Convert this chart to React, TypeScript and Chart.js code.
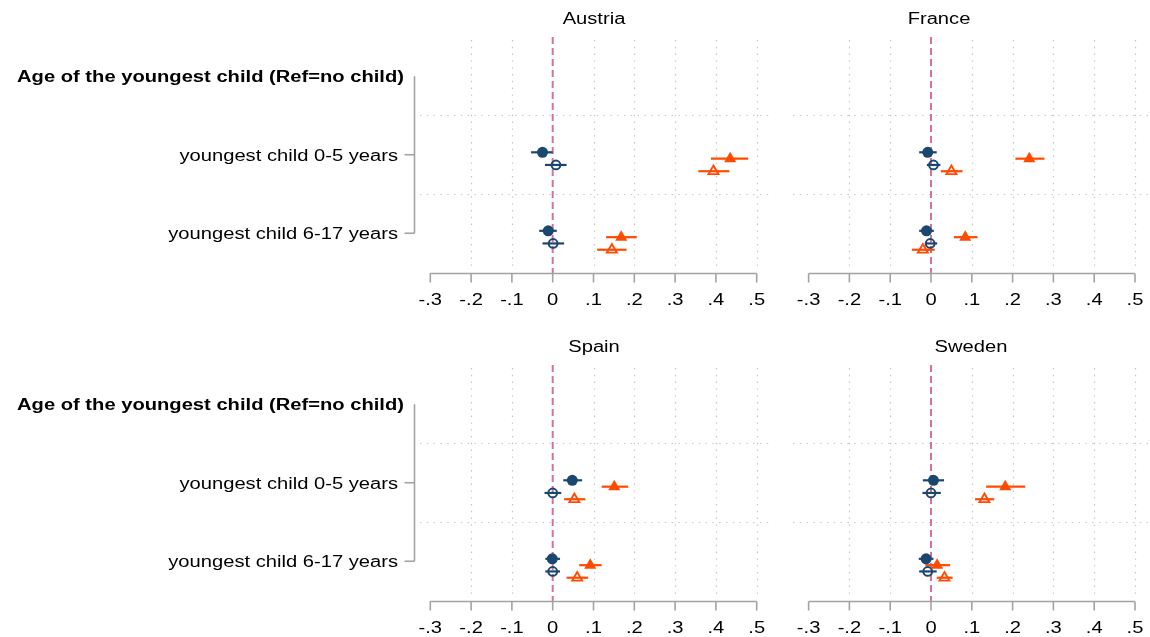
import React, { useEffect, useRef } from 'react';
import { Chart, registerables } from 'chart.js';

Chart.register(...registerables);

// ---------------- data ----------------
const countries = ['Austria', 'France', 'Spain', 'Sweden'];
const headerLabel = 'Age of the youngest child (Ref=no child)';
const categories = ['youngest child 0-5 years', 'youngest child 6-17 years'];
const xTickValues = [-0.3, -0.2, -0.1, 0, 0.1, 0.2, 0.3, 0.4, 0.5];
const xTickLabels = ['-.3', '-.2', '-.1', '0', '.1', '.2', '.3', '.4', '.5'];
const xGridValues = [-0.2, -0.1, 0.1, 0.2, 0.3, 0.4, 0.5];

// rows: Austria, France, Spain, Sweden ; columns: 0-5, 6-17
const navyFilledEst = [[-0.025, -0.011], [-0.008, -0.011], [0.048, -0.001], [0.006, -0.012]];
const navyFilledLo = [[-0.053, -0.033], [-0.029, -0.029], [0.026, -0.018], [-0.020, -0.030]];
const navyFilledHi = [[0.000, 0.010], [0.014, 0.007], [0.072, 0.018], [0.032, 0.006]];

const orangeFilledEst = [[0.435, 0.168], [0.241, 0.084], [0.151, 0.092], [0.182, 0.015]];
const orangeFilledLo = [[0.388, 0.131], [0.207, 0.056], [0.120, 0.065], [0.135, -0.014]];
const orangeFilledHi = [[0.479, 0.206], [0.278, 0.114], [0.185, 0.120], [0.231, 0.047]];

const navyHollowEst = [[0.008, 0.001], [0.006, -0.002], [0.000, 0.000], [0.000, -0.008]];
const navyHollowLo = [[-0.019, -0.025], [-0.010, -0.015], [-0.020, -0.018], [-0.021, -0.029]];
const navyHollowHi = [[0.034, 0.028], [0.023, 0.015], [0.021, 0.018], [0.024, 0.014]];

const orangeHollowEst = [[0.394, 0.145], [0.050, -0.020], [0.053, 0.060], [0.131, 0.033]];
const orangeHollowLo = [[0.357, 0.109], [0.024, -0.047], [0.028, 0.034], [0.108, 0.014]];
const orangeHollowHi = [[0.433, 0.181], [0.077, 0.009], [0.080, 0.087], [0.155, 0.053]];

// ---------------- styles / layout ----------------
const NAVY = '#1a476f';
const ORANGE = '#ff4a00';
const PINK = '#d4729f';
const GRID = '#c4c4c4';
const AXIS = '#a3a3a3';
const FONT = '"Liberation Sans", Arial, sans-serif';
const SX = 1.26; // horizontal text stretch

const series = [
  { est: navyFilledEst, lo: navyFilledLo, hi: navyFilledHi, offset: -0.031, color: NAVY, style: 'circle', filled: true, r: 5.5, bw: 0 },
  { est: orangeFilledEst, lo: orangeFilledLo, hi: orangeFilledHi, offset: 0.05, color: ORANGE, style: 'triangle', filled: true, r: 7, bw: 0 },
  { est: navyHollowEst, lo: navyHollowLo, hi: navyHollowHi, offset: 0.13, color: NAVY, style: 'circle', filled: false, r: 4.4, bw: 2 },
  { est: orangeHollowEst, lo: orangeHollowLo, hi: orangeHollowHi, offset: 0.21, color: ORANGE, style: 'triangle', filled: false, r: 5.7, bw: 1.9 },
];

const PANEL_H = 309;
const PX_PER_UNIT = 408;
const panels = [
  { c: 0, left: 0, top: 0, width: 780, padL: 420, padR: 7, zero: 552.7, showY: true, titleX: 594 },
  { c: 1, left: 780, top: 0, width: 370, padL: 13, padR: 0, zero: 151, showY: false, titleX: 159 },
  { c: 2, left: 0, top: 328, width: 780, padL: 420, padR: 7, zero: 552.7, showY: true, titleX: 594 },
  { c: 3, left: 780, top: 328, width: 370, padL: 13, padR: 0, zero: 151, showY: false, titleX: 191 },
];

function line(ctx: CanvasRenderingContext2D, x1: number, y1: number, x2: number, y2: number) {
  ctx.beginPath();
  ctx.moveTo(x1, y1);
  ctx.lineTo(x2, y2);
  ctx.stroke();
}

function text(ctx: CanvasRenderingContext2D, s: string, x: number, y: number, align: CanvasTextAlign, font: string) {
  ctx.save();
  ctx.translate(x, y);
  ctx.scale(SX, 1);
  ctx.font = font;
  ctx.fillStyle = '#000';
  ctx.textAlign = align;
  ctx.textBaseline = 'alphabetic';
  ctx.fillText(s, 0, 0);
  ctx.restore();
}

const decorPlugin = {
  id: 'decor',
  beforeDatasetsDraw(chart: any, _args: any, opts: any) {
    const { ctx, chartArea } = chart;
    const xs = chart.scales.x;
    const ys = chart.scales.y;
    const axisY = chartArea.bottom + 6.5;
    ctx.save();
    // vertical dotted grid
    ctx.strokeStyle = GRID;
    ctx.lineWidth = 1.2;
    ctx.setLineDash([1.4, 5.4]);
    for (const v of xGridValues) {
      const x = Math.round(xs.getPixelForValue(v)) + 0.5;
      line(ctx, x, chartArea.top + 3, x, chartArea.bottom);
    }
    // horizontal dotted grid between groups
    for (let k = 1; k <= categories.length; k++) {
      const y = Math.round(ys.getPixelForValue(k - 0.5)) + 0.5;
      line(ctx, chartArea.left, y, chartArea.right, y);
    }
    // zero reference line
    ctx.strokeStyle = PINK;
    ctx.lineWidth = 2;
    ctx.setLineDash([7, 4]);
    const x0 = xs.getPixelForValue(0);
    line(ctx, x0, chartArea.top, x0, axisY);
    // confidence intervals
    ctx.setLineDash([]);
    ctx.lineWidth = 2.2;
    chart.data.datasets.forEach((ds: any) => {
      ctx.strokeStyle = ds.ciColor;
      ds.data.forEach((p: any) => {
        const y = ys.getPixelForValue(p.y);
        line(ctx, xs.getPixelForValue(p.lo), y, xs.getPixelForValue(p.hi), y);
      });
    });
    ctx.restore();
  },
  afterDraw(chart: any, _args: any, opts: any) {
    const { ctx, chartArea } = chart;
    const xs = chart.scales.x;
    const ys = chart.scales.y;
    const axisY = chartArea.bottom + 6.5;
    ctx.save();
    // x axis
    ctx.strokeStyle = AXIS;
    ctx.lineWidth = 1.6;
    ctx.setLineDash([]);
    const xa = xs.getPixelForValue(xTickValues[0]);
    const xb = xs.getPixelForValue(xTickValues[xTickValues.length - 1]);
    line(ctx, xa, axisY, xb, axisY);
    xTickValues.forEach((v, i) => {
      const x = xs.getPixelForValue(v);
      line(ctx, x, axisY, x, axisY + 9);
      text(ctx, xTickLabels[i], x, axisY + 31.5, 'center', `16px ${FONT}`);
    });
    // y axis
    if (opts.showY) {
      const ax = chartArea.left - 5.5;
      const yTop = ys.getPixelForValue(0);
      const yBot = ys.getPixelForValue(categories.length);
      line(ctx, ax, yTop, ax, yBot);
      text(ctx, headerLabel, ax - 10.5, yTop + 6, 'right', `bold 16px ${FONT}`);
      categories.forEach((c, j) => {
        const y = ys.getPixelForValue(j + 1);
        line(ctx, ax - 10, y, ax, y);
        text(ctx, c, ax - 16.5, y + 5.8, 'right', `16px ${FONT}`);
      });
    }
    // title
    text(ctx, opts.title, opts.titleX, 24, 'center', `16px ${FONT}`);
    ctx.restore();
  },
};

function Panel({ p }: { p: any }) {
  const ref = useRef<HTMLCanvasElement | null>(null);
  useEffect(() => {
    if (!ref.current) return;
    const datasets = series.map((s) => ({
      data: categories.map((_, j) => ({
        x: s.est[p.c][j],
        y: j + 1 + s.offset,
        lo: s.lo[p.c][j],
        hi: s.hi[p.c][j],
      })),
      ciColor: s.color,
      pointStyle: s.style,
      pointRadius: s.r,
      pointHoverRadius: s.r,
      pointBackgroundColor: s.filled ? s.color : 'rgba(0,0,0,0)',
      pointBorderColor: s.color,
      pointBorderWidth: s.bw,
      showLine: false,
    }));
    const chart = new Chart(ref.current, {
      type: 'scatter',
      data: { datasets } as any,
      options: {
        animation: false,
        responsive: false,
        maintainAspectRatio: false,
        events: [],
        layout: {
          autoPadding: false,
          padding: { left: p.padL, right: p.padR, top: 37, bottom: PANEL_H - 267 },
        },
        scales: {
          x: {
            type: 'linear',
            display: false,
            min: (p.padL - p.zero) / PX_PER_UNIT,
            max: (p.width - p.padR - p.zero) / PX_PER_UNIT,
          },
          y: { type: 'linear', display: false, min: -0.5, max: 2.43, reverse: true },
        },
        plugins: {
          legend: { display: false },
          tooltip: { enabled: false },
          title: { display: false },
          decor: { showY: p.showY, titleX: p.titleX, title: countries[p.c] },
        } as any,
      } as any,
      plugins: [decorPlugin as any],
    });
    return () => chart.destroy();
  }, []);
  return (
    <canvas
      ref={ref}
      width={p.width}
      height={PANEL_H}
      style={{ position: 'absolute', left: p.left, top: p.top, width: p.width, height: PANEL_H }}
    />
  );
}

export default function App() {
  return (
    <div
      style={{
        position: 'absolute',
        left: 0,
        top: 0,
        width: 1150,
        height: 637,
        overflow: 'hidden',
        background: '#fff',
      }}
    >
      {panels.map((p, i) => (
        <Panel key={i} p={p} />
      ))}
    </div>
  );
}
